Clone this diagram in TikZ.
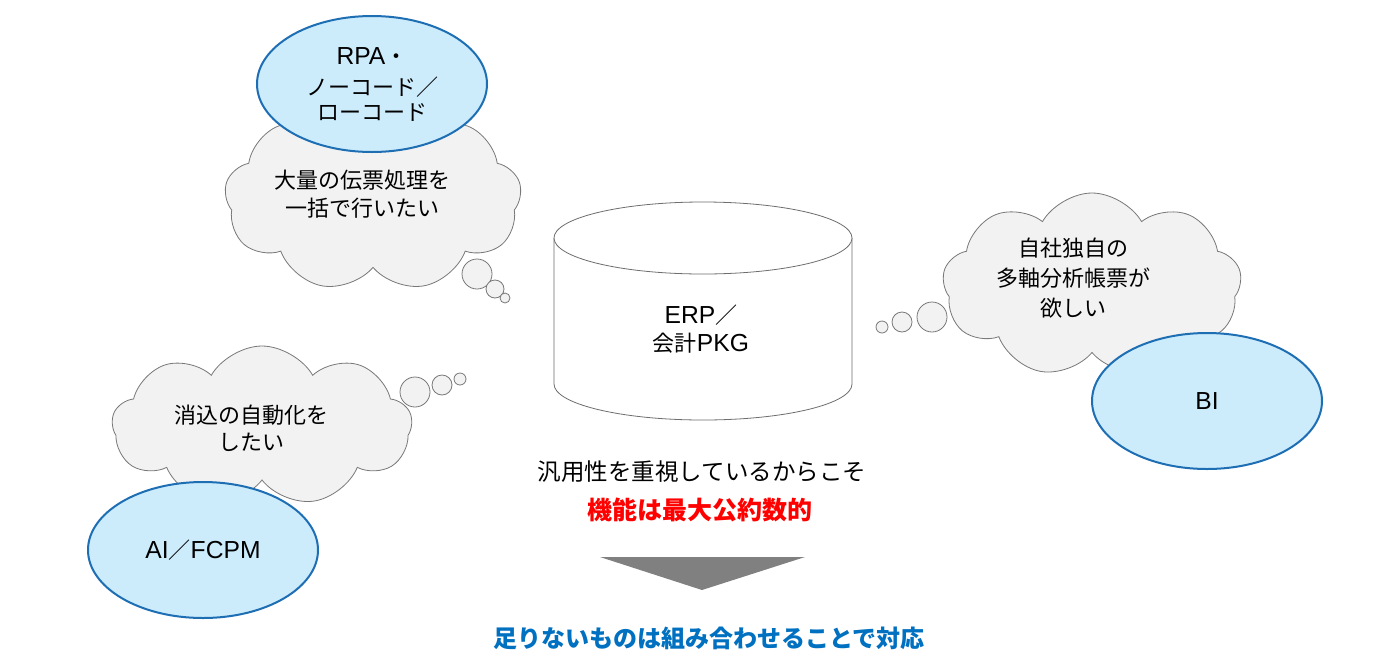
\documentclass[tikz,border=0pt]{standalone}
\usepackage{fontspec}
\setmainfont{Noto Sans CJK JP}
\newfontfamily\lat[Scale=1.12]{Liberation Sans}
\usetikzlibrary{shapes.symbols,shapes.geometric}
\definecolor{cloudfill}{RGB}{242,242,242}
\definecolor{cloudline}{RGB}{120,120,120}
\definecolor{ellfill}{RGB}{204,236,252}
\definecolor{elline}{RGB}{30,110,180}
\definecolor{redtxt}{RGB}{255,0,0}
\definecolor{bluetxt}{RGB}{0,112,192}
\definecolor{arrowgray}{RGB}{128,128,128}
\definecolor{cylline}{RGB}{110,110,110}
\begin{document}
\begin{tikzpicture}[x=1pt,y=-1pt,
  thought/.style={cloud, cloud puffs=9, cloud puff arc=120, draw=cloudline, fill=cloudfill, line width=0.8pt, inner sep=0pt},
  bubble/.style={circle, draw=cloudline, fill=cloudfill, line width=0.8pt, inner sep=0pt},
  tool/.style={ellipse, draw=elline, fill=ellfill, line width=2pt, minimum width=230pt, minimum height=136pt, inner sep=0pt, align=center, font=\fontsize{22}{25}\selectfont},
  lbl/.style={font=\fontsize{22}{28}\selectfont, align=center, text=black, inner sep=0pt},
]
\useasboundingbox[fill=white] (0,0) rectangle (1378,670);

% ---- top-left cloud + RPA ----
\node[thought, minimum width=297pt, minimum height=187pt] (c1) at (373,198) {};
\node[bubble, minimum size=30pt] (b11) at (477,274) {};
\node[bubble, minimum size=18pt] (b12) at (495,289) {};
\node[bubble, minimum size=10pt] (b13) at (505,298) {};
\node[lbl] (t1) at (362,194) {大量の伝票処理を\\一括で行いたい};
\node[tool] (rpa) at (372,84) {{\lat RPA}・\\[6pt]ノーコード／\\ローコード};

% ---- bottom-left cloud + AI ----
\node[thought, minimum width=300pt, minimum height=160pt] (c2) at (262,426) {};
\node[bubble, minimum size=30pt] (b21) at (415,392) {};
\node[bubble, minimum size=20pt] (b22) at (442,385) {};
\node[bubble, minimum size=12pt] (b23) at (460,379) {};
\node[lbl, font=\fontsize{22}{27}\selectfont] (t2) at (251,428) {消込の自動化を\\したい};
\node[tool] (ai) at (203,550) {{\lat AI}／{\lat FCPM}};

% ---- right cloud + BI ----
\node[thought, minimum width=299pt, minimum height=184pt] (c3) at (1092,285) {};
\node[bubble, minimum size=30pt] (b31) at (932,317) {};
\node[bubble, minimum size=20pt] (b32) at (902,322) {};
\node[bubble, minimum size=12pt] (b33) at (882,327) {};
\node[lbl, font=\fontsize{22}{30}\selectfont] (t3) at (1073,278) {自社独自の\\多軸分析帳票が\\欲しい};
\node[tool] (bi) at (1207,401) {{\lat BI}};

% ---- cylinder ----
\fill[white] (554,238) -- (554,384) arc[start angle=180, end angle=360, x radius=149pt, y radius=36pt] -- (852,238) -- cycle;
\draw[cylline, line width=0.8pt] (554,238) -- (554,384) arc[start angle=180, end angle=360, x radius=149pt, y radius=36pt] -- (852,238);
\draw[cylline, line width=0.8pt, fill=white] (703,238) ellipse [x radius=149pt, y radius=36pt];
\node[lbl, font=\fontsize{22}{28}\selectfont] (erp) at (701,329) {{\lat ERP}／\\会計{\lat PKG}};

% ---- bottom texts and arrow ----
\node[lbl, font=\fontsize{23.5}{28}\selectfont] (m1) at (702,472) {汎用性を重視しているからこそ};
\node[lbl, font=\fontsize{25}{28}\selectfont\bfseries, text=redtxt] (m2) at (700,510) {機能は最大公約数的};
\coordinate (a1) at (600,557);
\coordinate (a2) at (805,557);
\coordinate (a3) at (702,590);
\fill[arrowgray] (a1) -- (a2) -- (a3) -- cycle;
\node[lbl, font=\fontsize{24}{28}\selectfont\bfseries, text=bluetxt] (m3) at (709,638) {足りないものは組み合わせることで対応};
\end{tikzpicture}
\end{document}
